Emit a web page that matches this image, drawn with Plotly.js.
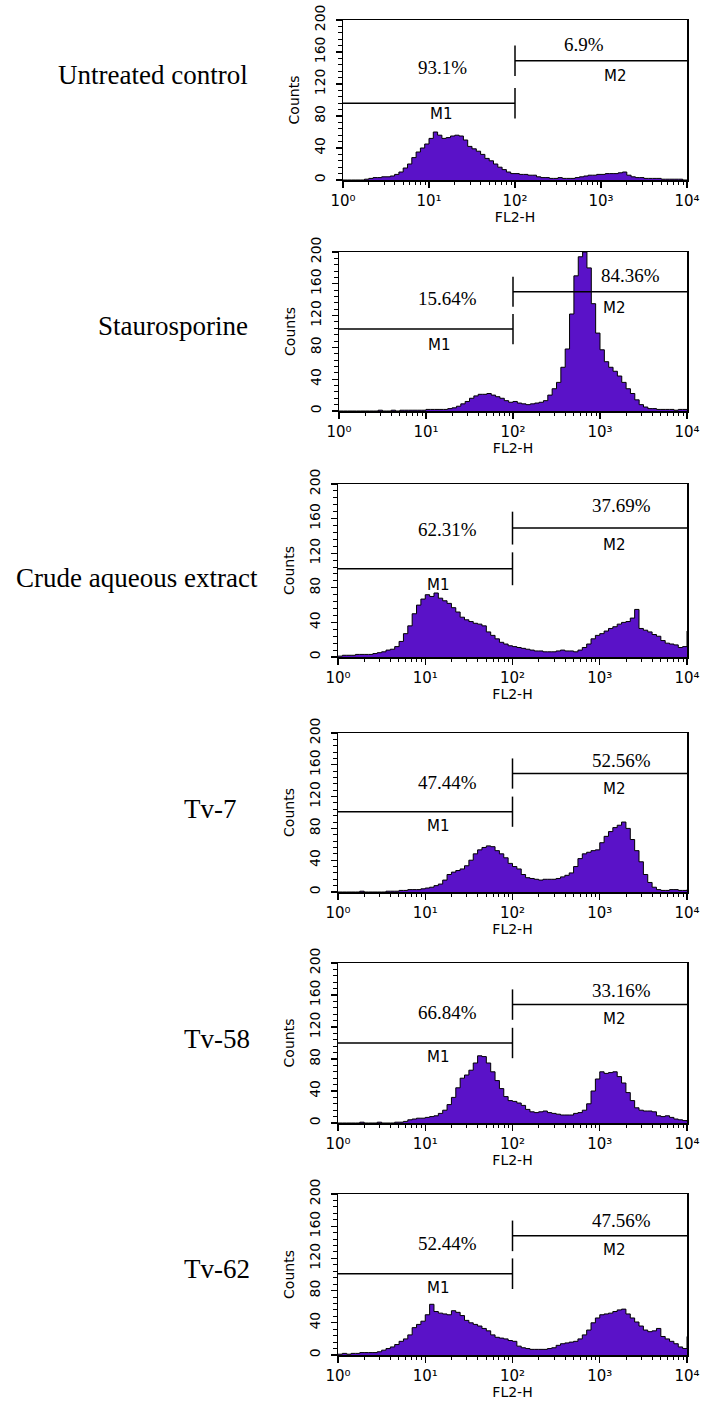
<!DOCTYPE html>
<html><head><meta charset="utf-8">
<script src="https://cdn.plot.ly/plotly-3.0.1.min.js"></script>
<style>html,body{margin:0;padding:0;background:#fff}#chart{width:701px;height:1406px}</style>
</head><body><div id="chart"></div>
<script>
// ---------------- data ----------------
const sampleNames = ["Untreated control", "Staurosporine", "Crude aqueous extract", "Tv-7", "Tv-58", "Tv-62"];
const m1Percent = ["93.1%", "15.64%", "62.31%", "47.44%", "66.84%", "52.44%"];
const m2Percent = ["6.9%", "84.36%", "37.69%", "52.56%", "33.16%", "47.56%"];
const gateNames = ["M1", "M2"];
const m1Range = [1, 100];
const m2Range = [100, 10000];
const m1Level = [96, 103, 102, 101, 100, 101];
const m2Level = [149, 150, 149, 149, 148, 148];
const gateBarHalf = 19;

// histogram counts, one value per 0.05-decade channel from 10^0 to 10^4
const countsUntreated = [0,0,0,0,0,1,2,3,3,4,4,5,7,10,15,20,28,35,40,45,52,60,56,52,53,55,56,55,50,42,39,36,32,27,24,20,16,13,10,8,8,7,7,6,6,4,3,3,2,2,3,2,2,2,3,4,5,6,6,7,7,8,8,8,9,10,6,4,3,3,2,2,2,2,1,1,1,1,1,0,0];
const countsStauro = [0,0,0,0,0,0,0,0,0,1,0,0,1,0,1,1,1,1,1,1,2,2,2,2,2,3,4,6,9,12,16,19,21,21,22,20,18,16,13,11,12,10,9,8,9,10,11,13,20,28,36,55,78,122,170,194,200,180,135,98,77,62,55,50,44,36,28,22,14,8,5,3,3,2,2,2,2,1,2,2,1];
const countsCrude = [1,2,2,2,3,3,3,3,4,5,6,8,9,12,18,27,36,50,60,67,72,70,74,68,65,62,57,52,46,43,41,39,38,36,29,25,21,17,15,13,12,11,10,9,8,7,7,6,6,6,7,8,7,7,6,8,11,15,21,25,27,30,33,35,38,40,41,45,55,33,31,29,26,24,19,16,15,14,11,12,30];
const countsTv7 = [0,0,0,0,0,1,0,0,0,0,0,1,1,1,2,2,3,3,3,4,5,6,8,10,15,22,25,27,29,33,40,48,53,56,58,57,52,48,43,36,32,29,22,18,17,16,15,16,16,16,17,19,21,24,32,42,48,50,52,53,62,70,76,81,84,88,80,66,52,38,22,12,6,3,2,2,3,3,2,2,3];
const countsTv58 = [0,0,0,0,0,1,0,0,0,1,0,0,0,1,1,2,4,5,6,6,7,8,9,12,16,23,32,44,56,60,66,75,84,83,75,64,53,43,33,28,27,25,22,17,14,13,14,15,13,12,11,10,10,10,12,13,16,24,40,55,64,62,63,64,58,50,38,28,19,16,15,15,14,9,8,9,7,5,4,3,2];
const countsTv62 = [1,2,1,2,2,3,3,3,3,4,6,8,10,13,17,20,25,34,38,42,50,63,54,52,51,50,55,53,49,43,40,38,36,33,30,25,22,21,20,18,17,11,9,8,7,7,7,7,8,9,12,14,15,16,17,20,25,31,40,46,50,51,52,54,56,57,51,46,41,36,31,29,30,33,23,20,17,14,10,8,23];
const allCounts = [countsUntreated, countsStauro, countsCrude, countsTv7, countsTv58, countsTv62];

const xTickVals = [1, 10, 100, 1000, 10000];
const xTickText = ["10\u2070", "10\u00b9", "10\u00b2", "10\u00b3", "10\u2074"];
const yTickVals = [0, 40, 80, 120, 160, 200];
const xTitle = "FL2-H";
const yTitle = "Counts";

// ---------------- layout (positions / styles) ----------------
const W = 701, H = 1406;
const channelStep = 0.05; // decades per channel
const panelBox = [
  {l: 343, r: 687, t: 20,   b: 180},
  {l: 339, r: 687, t: 252,  b: 411},
  {l: 338, r: 687, t: 484,  b: 657},
  {l: 338, r: 687, t: 733,  b: 892},
  {l: 338, r: 687, t: 963,  b: 1123},
  {l: 338, r: 687, t: 1194, b: 1355}
];
const nameLabelPos = [
  {x: 250, y: 75,   anchor: "right"},
  {x: 250, y: 326,  anchor: "right"},
  {x: 260, y: 578,  anchor: "right"},
  {x: 182, y: 809,  anchor: "left"},
  {x: 182, y: 1039, anchor: "left"},
  {x: 182, y: 1269, anchor: "left"}
];
const m1PctPos = [[1.16, 140], [1.245, 142], [1.26, 147], [1.25, 138], [1.25, 138], [1.25, 139]];
const m2PctPos = [[2.80, 169], [3.35, 171], [3.25, 175], [3.25, 166], [3.25, 166], [3.25, 167]];
const m1LabelPos = [1.15, 83];
const m2LabelPos = [3.17, 130];

const fillColor = "#5a12c8";
const serif = "Liberation Serif, Times New Roman, serif";
const sans = "DejaVu Sans, sans-serif";

const minorX = [];
for (let d = 0; d < 4; d++) for (let m = 2; m <= 9; m++) minorX.push(m * Math.pow(10, d));

const traces = [];
const layout = {
  width: W, height: H,
  margin: {l: 0, r: 0, t: 0, b: 0},
  paper_bgcolor: "#fff", plot_bgcolor: "#fff",
  showlegend: false,
  font: {family: sans, color: "#000"},
  annotations: []
};

panelBox.forEach((b, i) => {
  const k = i === 0 ? "" : String(i + 1);
  const xa = "x" + k, ya = "y" + k;
  const counts = allCounts[i];
  const xs = counts.map((_, j) => Math.pow(10, j * channelStep));
  traces.push({
    type: "scatter", mode: "lines", xaxis: xa, yaxis: ya,
    x: xs, y: counts,
    line: {shape: "hv", color: "#000", width: 1},
    fill: "tozeroy", fillcolor: fillColor, hoverinfo: "skip"
  });
  const l1 = m1Level[i], l2 = m2Level[i];
  traces.push({
    type: "scatter", mode: "lines", xaxis: xa, yaxis: ya,
    x: [m1Range[0], m1Range[1], null, m1Range[1], m1Range[1], null, m2Range[0], m2Range[1], null, m2Range[0], m2Range[0]],
    y: [l1, l1, null, l1 - gateBarHalf, l1 + gateBarHalf, null, l2, l2, null, l2 - gateBarHalf, l2 + gateBarHalf],
    line: {color: "#000", width: 1.5}, hoverinfo: "skip"
  });

  layout["xaxis" + k] = {
    domain: [b.l / W, b.r / W], anchor: ya, type: "log", range: [0, 4],
    tickmode: "array", tickvals: xTickVals, ticktext: xTickText,
    ticks: "outside", ticklen: 6, tickwidth: 1.3, tickcolor: "#000",
    minor: {tickmode: "array", tickvals: minorX, ticks: "outside", ticklen: 3.5, tickwidth: 1, tickcolor: "#000", showgrid: false},
    showline: true, linecolor: "#000", linewidth: 1.5, mirror: true,
    showgrid: false, zeroline: false, fixedrange: true,
    tickfont: {family: sans, size: 15, color: "#000"},
    title: {text: xTitle, font: {family: sans, size: 14, color: "#000"}, standoff: 0}
  };
  layout["yaxis" + k] = {
    domain: [1 - b.b / H, 1 - b.t / H], anchor: xa, range: [0, 200],
    tickmode: "array", tickvals: yTickVals, tickangle: -90,
    ticks: "outside", ticklen: 6, tickwidth: 1.3, tickcolor: "#000",
    minor: {tickmode: "linear", tick0: 0, dtick: 8, ticks: "outside", ticklen: 3.5, tickwidth: 1, tickcolor: "#000", showgrid: false},
    ticklabelstandoff: 5,
    showline: true, linecolor: "#000", linewidth: 1.5, mirror: true,
    showgrid: false, zeroline: false, fixedrange: true,
    tickfont: {family: sans, size: 14, color: "#000"},
    title: {text: yTitle, font: {family: sans, size: 14, color: "#000"}, standoff: 9}
  };

  const nl = nameLabelPos[i];
  layout.annotations.push({
    xref: "paper", yref: "paper", x: nl.x / W, y: 1 - nl.y / H,
    xanchor: nl.anchor, yanchor: "middle", showarrow: false,
    text: sampleNames[i], font: {family: serif, size: 27, color: "#000"}
  });
  layout.annotations.push({
    xref: xa, yref: ya, x: m1PctPos[i][0], y: m1PctPos[i][1], xanchor: "center", yanchor: "middle",
    showarrow: false, text: m1Percent[i], font: {family: serif, size: 19, color: "#000"}
  });
  layout.annotations.push({
    xref: xa, yref: ya, x: m2PctPos[i][0], y: m2PctPos[i][1], xanchor: "center", yanchor: "middle",
    showarrow: false, text: m2Percent[i], font: {family: serif, size: 19, color: "#000"}
  });
  layout.annotations.push({
    xref: xa, yref: ya, x: m1LabelPos[0], y: m1LabelPos[1], xanchor: "center", yanchor: "middle",
    showarrow: false, text: gateNames[0], font: {family: sans, size: 15, color: "#000"}
  });
  layout.annotations.push({
    xref: xa, yref: ya, x: m2LabelPos[0], y: m2LabelPos[1], xanchor: "center", yanchor: "middle",
    showarrow: false, text: gateNames[1], font: {family: sans, size: 15, color: "#000"}
  });
});

Plotly.newPlot("chart", traces, layout, {staticPlot: true, displayModeBar: false});
</script>
</body></html>
